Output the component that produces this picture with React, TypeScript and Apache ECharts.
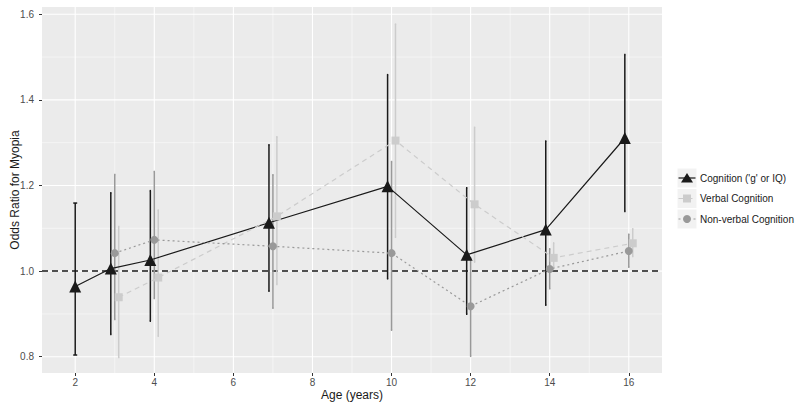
import React, { useEffect, useRef } from "react";
import * as echarts from "echarts";

// ---- Data (odds ratios with 95% CI) ----
const cognitionAges = [2, 3, 4, 7, 10, 12, 14, 16];
const cognitionOR = [0.964, 1.006, 1.026, 1.113, 1.198, 1.038, 1.097, 1.311];
const cognitionLow = [0.804, 0.852, 0.883, 0.953, 0.982, 0.899, 0.92, 1.139];
const cognitionHigh = [1.159, 1.183, 1.188, 1.295, 1.459, 1.195, 1.304, 1.506];

const verbalAges = [3, 4, 7, 10, 12, 14, 16];
const verbalOR = [0.939, 0.985, 1.128, 1.305, 1.156, 1.031, 1.065];
const verbalLow = [0.798, 0.848, 0.969, 1.079, 1.021, 1.01, 1.034];
const verbalHigh = [1.104, 1.143, 1.314, 1.577, 1.336, 1.066, 1.099];

const nonverbalAges = [3, 4, 7, 10, 12, 14, 16];
const nonverbalOR = [1.042, 1.073, 1.058, 1.042, 0.918, 1.005, 1.047];
const nonverbalLow = [0.887, 0.936, 0.913, 0.862, 0.801, 0.959, 1.009];
const nonverbalHigh = [1.226, 1.233, 1.225, 1.256, 1.031, 1.052, 1.086];

const seriesNames = ["Cognition ('g' or IQ)", "Verbal Cognition", "Non-verbal Cognition"];
const xTicks = [2, 4, 6, 8, 10, 12, 14, 16];
const xMinor = [3, 5, 7, 9, 11, 13, 15];
const yTicks = [0.8, 1.0, 1.2, 1.4, 1.6];
const yMinor = [0.9, 1.1, 1.3, 1.5];
const referenceOR = 1.0;

const DODGE = 0.2; // total dodge width
const CAP = 0.1; // errorbar cap width (data units, before dodge split)

const groups = [
  { name: seriesNames[0], ages: cognitionAges, or: cognitionOR, lo: cognitionLow, hi: cognitionHigh, color: "#1a1a1a", symbol: "triangle", size: 12, lineType: "solid" as any, dash: null as any },
  { name: seriesNames[1], ages: verbalAges, or: verbalOR, lo: verbalLow, hi: verbalHigh, color: "#cccccc", symbol: "rect", size: 8, lineType: [5, 4] as any, dash: [5, 4] },
  { name: seriesNames[2], ages: nonverbalAges, or: nonverbalOR, lo: nonverbalLow, hi: nonverbalHigh, color: "#999999", symbol: "circle", size: 8, lineType: [2, 3] as any, dash: [2, 3] },
];

function dodgeInfo(groupIdx: number, age: number) {
  const present = groups.map((g, i) => (g.ages.includes(age) ? i : -1)).filter((i) => i >= 0);
  const n = present.length;
  const order = [0, 2, 1]; // visual order left→right: cognition, non-verbal, verbal
  const sorted = present.slice().sort((a, b) => order.indexOf(a) - order.indexOf(b));
  const pos = sorted.indexOf(groupIdx);
  const offset = n > 1 ? -DODGE / 2 + (DODGE / (n - 1)) * pos : 0;
  return { x: age + offset, cap: CAP / n };
}

function legendSymbol(kind: string, cx: number, cy: number, color: string) {
  if (kind === "triangle") {
    return { type: "polygon", silent: true, shape: { points: [[cx, cy - 5], [cx - 6, cy + 4.5], [cx + 6, cy + 4.5]] }, style: { fill: color } };
  }
  if (kind === "rect") {
    return { type: "rect", silent: true, shape: { x: cx - 4, y: cy - 4, width: 8, height: 8 }, style: { fill: color } };
  }
  return { type: "circle", silent: true, shape: { cx, cy, r: 4 }, style: { fill: color } };
}

export default function App() {
  const ref = useRef<HTMLDivElement>(null);
  useEffect(() => {
    if (!ref.current) return;
    const chart = echarts.init(ref.current, undefined, { renderer: "svg" });

    const gridLineSeries = (vals: number[], dim: "x" | "y", width: number) => ({
      type: "custom",
      silent: true,
      z: 0,
      data: vals.map((v) => [v]),
      renderItem: (params: any, api: any) => {
        const cs = params.coordSys;
        const v = api.value(0);
        if (dim === "x") {
          const p = api.coord([v, 1]);
          return { type: "line", shape: { x1: p[0], y1: cs.y, x2: p[0], y2: cs.y + cs.height }, style: { stroke: "#ffffff", lineWidth: width } };
        }
        const p = api.coord([5, v]);
        return { type: "line", shape: { x1: cs.x, y1: p[1], x2: cs.x + cs.width, y2: p[1] }, style: { stroke: "#ffffff", lineWidth: width } };
      },
    });

    const errorSeries = groups.map((g, gi) => ({
      type: "custom",
      silent: true,
      z: 3,
      data: g.ages.map((a, i) => {
        const d = dodgeInfo(gi, a);
        return [d.x, g.lo[i], g.hi[i], d.cap];
      }),
      renderItem: (params: any, api: any) => {
        const x = api.value(0);
        const lo = api.coord([x, api.value(1)]);
        const hi = api.coord([x, api.value(2)]);
        const half = api.value(3) / 2;
        const l = api.coord([x - half, api.value(1)]);
        const r = api.coord([x + half, api.value(1)]);
        const style = { stroke: g.color, lineWidth: 1.5 };
        return {
          type: "group",
          children: [
            { type: "line", shape: { x1: lo[0], y1: lo[1], x2: hi[0], y2: hi[1] }, style },
            { type: "line", shape: { x1: l[0], y1: lo[1], x2: r[0], y2: lo[1] }, style },
            { type: "line", shape: { x1: l[0], y1: hi[1], x2: r[0], y2: hi[1] }, style },
          ],
        };
      },
    }));

    const lineSeries = groups.map((g, gi) => ({
      name: g.name,
      type: "line",
      z: 4,
      symbol: g.symbol,
      symbolSize: g.size,
      showSymbol: true,
      itemStyle: { color: g.color, opacity: 1 },
      lineStyle: { color: g.color, width: 1.2, type: g.lineType },
      data: g.ages.map((a, i) => [dodgeInfo(gi, a).x, g.or[i]]),
    }));

    const refSeries = {
      type: "custom",
      silent: true,
      z: 2,
      data: [[referenceOR]],
      renderItem: (params: any, api: any) => {
        const cs = params.coordSys;
        const p = api.coord([5, api.value(0)]);
        return { type: "line", shape: { x1: cs.x, y1: p[1], x2: cs.x + cs.width, y2: p[1] }, style: { stroke: "#1a1a1a", lineWidth: 1.5, lineDash: [6, 4] } };
      },
    };

    const legendRowCenters = [178, 198.5, 219];
    const keyX = 677.5;
    const keyW = 19;
    const legendGraphics: any[] = [];
    groups.forEach((g, i) => {
      const cy = legendRowCenters[i];
      legendGraphics.push({ type: "rect", silent: true, z: 1, shape: { x: keyX, y: cy - 9.5, width: keyW, height: 19 }, style: { fill: "#f2f2f2" } });
      legendGraphics.push({ type: "line", silent: true, z: 2, shape: { x1: keyX + 1, y1: cy, x2: keyX + keyW - 1, y2: cy }, style: { stroke: g.color, lineWidth: 1.2, lineDash: g.dash } });
      legendGraphics.push({ ...legendSymbol(g.symbol, keyX + keyW / 2, cy, g.color), z: 3 });
      legendGraphics.push({ type: "text", silent: true, z: 3, x: 700, y: cy, style: { text: g.name, fill: "#1a1a1a", fontSize: 10, fontFamily: "'Liberation Sans', Arial, sans-serif", verticalAlign: "middle", align: "left" } });
    });

    chart.setOption({
      animation: false,
      textStyle: { fontFamily: "'Liberation Sans', Arial, sans-serif" },
      grid: { left: 42, top: 7, width: 620, height: 366, show: true, backgroundColor: "#ebebeb", borderWidth: 0, containLabel: false, outerBoundsMode: "none" },
      xAxis: {
        type: "value",
        min: 1.16,
        max: 16.84,
        name: "Age (years)",
        nameLocation: "middle",
        nameGap: 16,
        nameMoveOverlap: false,
        nameTextStyle: { color: "#1a1a1a", fontSize: 12 },
        axisLine: { show: false },
        splitLine: { show: false },
        axisTick: { show: true, length: 3, lineStyle: { color: "#333333" }, customValues: xTicks },
        axisLabel: { color: "#4d4d4d", fontSize: 10, margin: 4, customValues: xTicks, formatter: (v: number) => String(v) },
      },
      yAxis: {
        type: "value",
        min: 0.762,
        max: 1.617,
        name: "Odds Ratio for Myopia",
        nameLocation: "middle",
        nameGap: 21,
        nameMoveOverlap: false,
        nameTextStyle: { color: "#1a1a1a", fontSize: 12 },
        axisLine: { show: false },
        splitLine: { show: false },
        axisTick: { show: true, length: 3, lineStyle: { color: "#333333" }, customValues: yTicks },
        axisLabel: { color: "#4d4d4d", fontSize: 10, margin: 8, customValues: yTicks, formatter: (v: number) => v.toFixed(1) },
      },
      graphic: legendGraphics,
      series: [
        gridLineSeries(xMinor, "x", 0.5),
        gridLineSeries(yMinor, "y", 0.5),
        gridLineSeries(xTicks, "x", 1.1),
        gridLineSeries(yTicks, "y", 1.1),
        refSeries,
        ...errorSeries,
        ...lineSeries,
      ],
    });
    return () => chart.dispose();
  }, []);
  return <div ref={ref} style={{ width: 800, height: 411, position: "absolute", left: 0, top: 0 }} />;
}
